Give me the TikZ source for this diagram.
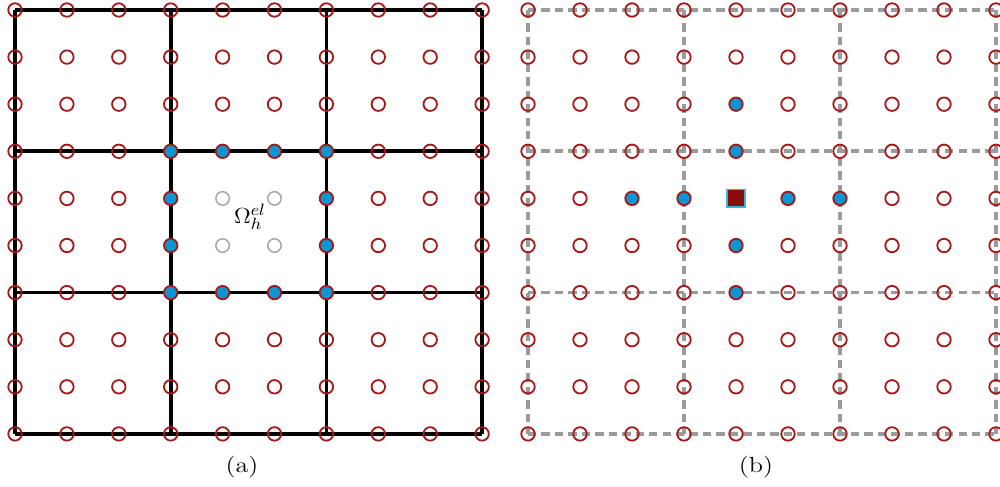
\documentclass[tikz,border=0pt]{standalone}
\definecolor{ptred}{RGB}{165,25,25}
\definecolor{ptblue}{RGB}{10,150,210}
\definecolor{sqred}{RGB}{140,10,10}
\definecolor{sqblue}{RGB}{60,175,230}
\definecolor{ptgray}{RGB}{165,165,165}
\definecolor{dashgray}{RGB}{155,155,155}
\begin{document}
\begin{tikzpicture}[x=0.55pt,y=-0.55pt,
  hollow/.style={circle,draw=ptred,line width=1pt,inner sep=0pt,minimum size=7.4pt},
  bluec/.style={hollow,fill=ptblue},
  grayc/.style={hollow,draw=ptgray,line width=0.8pt},
  sqnode/.style={rectangle,draw=sqblue,fill=sqred,line width=0.9pt,inner sep=0pt,minimum size=9.6pt},
  meshline/.style={line width=2pt,black},
  dashline/.style={line width=2pt,dashgray,dash pattern=on 4.6pt off 2.8pt},
  caption/.style={inner sep=1pt,font=\fontsize{12}{14}\selectfont}]
\useasboundingbox (0,0) rectangle (1000,487);
\foreach \i in {0,...,9}{\foreach \j in {0,...,9}{
  \coordinate (a-\i-\j) at ({15+51.9*\i},{10+47.1*\j});
  \coordinate (b-\i-\j) at ({528+52*\i},{10+47.1*\j});
}}
% mesh lines
\foreach \k in {0,3,6,9}{
  \draw[meshline] (a-\k-0) -- (a-\k-9);
  \draw[meshline] (a-0-\k) -- (a-9-\k);
  \draw[dashline] (b-\k-0) -- (b-\k-9);
  \draw[dashline] (b-0-\k) -- (b-9-\k);
}
% left panel points
\foreach \i in {0,...,9}{\foreach \j in {0,...,9}{
  \def\st{hollow}%
  \ifnum\i>2\relax\ifnum\i<7\relax\ifnum\j>2\relax\ifnum\j<7\relax
    \def\st{grayc}%
    \ifnum\i=3\relax\def\st{bluec}\fi
    \ifnum\i=6\relax\def\st{bluec}\fi
    \ifnum\j=3\relax\def\st{bluec}\fi
    \ifnum\j=6\relax\def\st{bluec}\fi
  \fi\fi\fi\fi
  \node[\st] (pa-\i-\j) at (a-\i-\j) {};
}}
% right panel points
\foreach \i in {0,...,9}{\foreach \j in {0,...,9}{
  \def\st{hollow}%
  \ifnum\i=4\relax\ifnum\j>1\relax\ifnum\j<7\relax\def\st{bluec}\fi\fi\fi
  \ifnum\j=4\relax\ifnum\i>1\relax\ifnum\i<7\relax\def\st{bluec}\fi\fi\fi
  \ifnum\i=4\relax\ifnum\j=4\relax\def\st{sqnode}\fi\fi
  \node[\st] (pb-\i-\j) at (b-\i-\j) {};
}}
\node[font=\fontsize{13}{15}\selectfont,inner sep=0pt] (omega) at (250,217) {\scalebox{1.08}[1]{$\Omega_h^{el}$}};
\node[caption] (capa) at (242,467) {\scalebox{1.2}[1]{(a)}};
\node[caption] (capb) at (756,467) {\scalebox{1.2}[1]{(b)}};
\end{tikzpicture}
\end{document}
